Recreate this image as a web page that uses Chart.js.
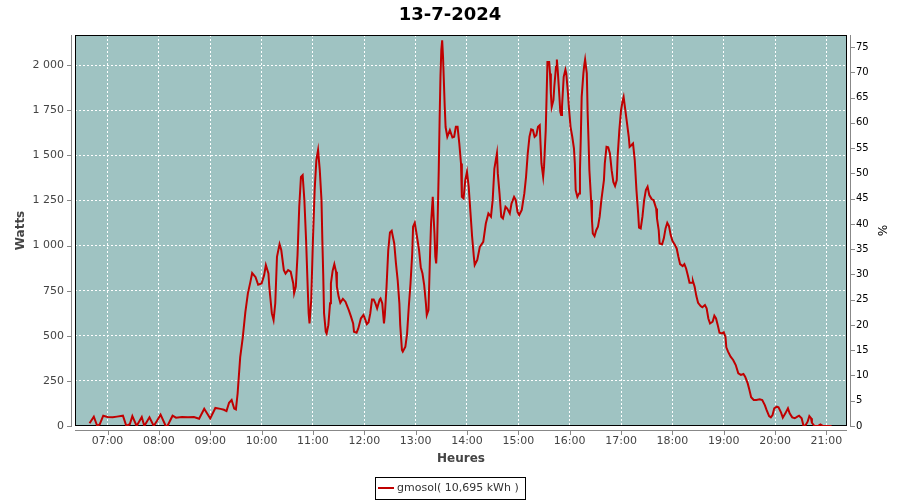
<!DOCTYPE html>
<html>
<head>
<meta charset="utf-8">
<script src="https://cdn.jsdelivr.net/npm/chart.js@4.4.1/dist/chart.umd.min.js"></script>
<style>
  html, body { margin: 0; padding: 0; background: #fff; }
</style>
</head>
<body>
<canvas id="chart" width="900" height="500"></canvas>
<script>
const chartTitle = '13-7-2024';
const seriesName = 'gmosol( 10,695 kWh )';

// time of day in minutes since midnight
const minutes = [
  399, 404, 408, 411, 415, 420, 426, 431, 438, 442, 446, 449, 454, 460, 463, 469, 474, 478, 482, 488,
  490, 496, 500, 507, 514, 521, 527, 533, 540, 546, 552, 556, 559, 562, 565, 568, 570, 572, 575, 578,
  581, 584, 587, 589, 593, 596, 600, 603, 605, 608, 609, 612, 614, 616, 618, 621, 623, 626, 628, 631,
  634, 637, 638, 640, 642, 644, 646, 648, 650, 652, 654, 655, 656, 658, 660, 662, 664, 666, 668, 670,
  671, 672, 673, 675, 676, 678, 680, 681, 683, 685, 687, 688, 690, 692, 695, 698, 702, 704, 707, 708,
  711, 713, 716, 719, 720, 723, 725, 727, 729, 731, 733, 735, 738, 739, 741, 743, 744, 746, 748, 750,
  752, 755, 757, 759, 761, 762, 764, 765, 768, 770, 772, 774, 776, 777, 779, 781, 784, 786, 788, 790,
  792, 793, 795, 796, 797, 798, 800, 801, 802, 803, 804, 805, 807, 808, 809, 810, 811, 812, 814, 815,
  817, 820, 823, 825, 827, 829, 831, 833, 834, 836, 838, 840, 842, 844, 846, 848, 849, 852, 855, 859,
  862, 865, 868, 870, 872, 875, 876, 878, 880, 882, 885, 887, 890, 892, 895, 897, 899, 901, 904, 907,
  909, 911, 913, 915, 917, 919, 921, 923, 925, 926, 927, 929, 930, 932, 933, 934, 936, 937, 938, 939,
  941, 942, 944, 945, 946, 948, 949, 950, 951, 953, 955, 956, 958, 959, 961, 963, 965, 966, 967, 969,
  971, 972, 973, 974, 976, 977, 978, 980, 981, 982, 983, 985, 986, 987, 989, 991, 993, 995, 997, 1000,
  1001, 1003, 1005, 1007, 1009, 1011, 1013, 1015, 1016, 1018, 1020, 1022, 1023, 1025, 1027, 1029, 1030, 1032, 1034, 1036,
  1038, 1040, 1041, 1043, 1045, 1047, 1049, 1051, 1053, 1056, 1058, 1061, 1062, 1064, 1065, 1068, 1070, 1072, 1074, 1076,
  1078, 1080, 1083, 1085, 1087, 1089, 1092, 1094, 1096, 1098, 1100, 1103, 1104, 1106, 1108, 1110, 1113, 1115, 1118, 1120,
  1122, 1124, 1127, 1129, 1131, 1133, 1135, 1138, 1140, 1142, 1143, 1145, 1148, 1151, 1154, 1157, 1160, 1163, 1165, 1168,
  1170, 1172, 1175, 1178, 1182, 1185, 1188, 1190, 1193, 1195, 1197, 1199, 1202, 1204, 1207, 1209, 1212, 1215, 1217, 1220,
  1223, 1226, 1228, 1231, 1233, 1235, 1238, 1240, 1242, 1243, 1246, 1250, 1253, 1256, 1266
];

const watts = [
  15, 52, 0, 10, 57, 50, 48, 52, 57, 0, 10, 55, 0, 50, 0, 48, 0, 30, 63, 0,
  0, 57, 46, 50, 48, 50, 40, 96, 42, 100, 95, 90, 83, 129, 144, 97, 92, 180, 380, 490,
  630, 735, 800, 848, 825, 783, 790, 836, 892, 845, 772, 624, 587, 680, 938, 1008, 975, 864, 845, 864,
  855, 790, 735, 772, 947, 1215, 1380, 1390, 1252, 1030, 753, 624, 568, 698, 1030, 1307, 1474, 1529, 1418, 1252,
  1030, 845, 624, 522, 512, 559, 680, 790, 860, 897, 855, 772, 717, 683, 705, 689, 641, 613, 568, 522,
  517, 541, 596, 615, 605, 565, 575, 624, 701, 701, 680, 652, 701, 707, 680, 568, 615, 772, 975, 1073,
  1082, 1012, 901, 809, 680, 559, 421, 412, 439, 512, 661, 790, 956, 1104, 1126, 1067, 975, 880, 845, 781,
  680, 615, 643, 809, 975, 1122, 1270, 1160, 1067, 938, 901, 993, 1418, 1695, 1935, 2083, 2138, 2046, 1769, 1657,
  1603, 1640, 1599, 1603, 1658, 1658, 1566, 1455, 1270, 1261, 1363, 1409, 1326, 1187, 1049, 938, 892, 920, 993, 1021,
  1122, 1178, 1160, 1252, 1427, 1511, 1400, 1289, 1160, 1150, 1215, 1205, 1178, 1233, 1270, 1252, 1187, 1169, 1197, 1289,
  1381, 1511, 1603, 1644, 1640, 1603, 1612, 1658, 1667, 1557, 1455, 1381, 1436, 1640, 1824, 2018, 2018, 1954, 1843, 1769,
  1806, 1880, 1991, 2031, 1972, 1824, 1741, 1723, 1769, 1935, 1975, 1954, 1843, 1769, 1658, 1603, 1538, 1455, 1307, 1270,
  1289, 1418, 1603, 1824, 1954, 2000, 2031, 1954, 1732, 1584, 1418, 1252, 1141, 1067, 1052, 1085, 1104, 1160, 1252, 1363,
  1455, 1547, 1544, 1511, 1418, 1353, 1330, 1363, 1492, 1640, 1750, 1806, 1824, 1750, 1677, 1603, 1547, 1556, 1566, 1474,
  1307, 1178, 1100, 1095, 1160, 1252, 1307, 1326, 1280, 1256, 1252, 1206, 1150, 1086, 1012, 1007, 1040, 1095, 1126, 1108,
  1058, 1026, 1003, 984, 938, 897, 886, 897, 873, 836, 794, 794, 803, 772, 720, 683, 665, 658, 670, 652,
  596, 568, 578, 611, 596, 559, 517, 513, 519, 495, 436, 412, 384, 366, 338, 292, 283, 288, 273, 236,
  199, 159, 144, 144, 148, 144, 116, 89, 55, 48, 61, 98, 107, 104, 74, 46, 70, 98, 70, 48,
  43, 52, 57, 43, 4, 0, 24, 55, 43, 18, 0, 0, 9, 0, 0
];

const hourTicks = [420, 480, 540, 600, 660, 720, 780, 840, 900, 960, 1020, 1080, 1140, 1200, 1260];
const wattTicks = [0, 250, 500, 750, 1000, 1250, 1500, 1750, 2000];
const pctTicks = [0, 5, 10, 15, 20, 25, 30, 35, 40, 45, 50, 55, 60, 65, 70, 75];

const FONT = '"DejaVu Sans", sans-serif';

function fmtThousands(v) {
  return String(v).replace(/\B(?=(\d{3})+(?!\d))/g, ' ');
}
function fmtHour(v) {
  const h = Math.floor(v / 60);
  return (h < 10 ? '0' : '') + h + ':00';
}

const frame = {
  id: 'frame',
  beforeDraw(chart) {
    const { ctx, chartArea: a } = chart;
    ctx.save();
    ctx.fillStyle = '#ffffff';
    ctx.fillRect(0, 0, chart.width, chart.height);
    ctx.fillStyle = '#9fc3c2';
    ctx.fillRect(a.left, a.top, a.right - a.left, a.bottom - a.top);
    ctx.restore();
  },
  beforeDatasetsDraw(chart) {
    const { ctx, chartArea: a, scales } = chart;
    ctx.save();
    ctx.lineWidth = 1;
    ctx.strokeStyle = '#000';
    ctx.strokeRect(a.left + 0.5, a.top + 0.5, a.right - a.left - 1, a.bottom - a.top - 1);

    // detached axis lines + tick marks
    ctx.strokeStyle = '#888';
    ctx.beginPath();
    ctx.moveTo(a.left - 3.5, a.top); ctx.lineTo(a.left - 3.5, a.bottom);
    ctx.moveTo(a.right + 3.5, a.top); ctx.lineTo(a.right + 3.5, a.bottom);
    ctx.moveTo(a.left, a.bottom + 4.5); ctx.lineTo(a.right, a.bottom + 4.5);
    scales.y.ticks.forEach(t => {
      const py = Math.round(scales.y.getPixelForValue(t.value)) + 0.5;
      ctx.moveTo(a.left - 8, py); ctx.lineTo(a.left - 3, py);
    });
    scales.y2.ticks.forEach(t => {
      const py = Math.round(scales.y2.getPixelForValue(t.value)) + 0.5;
      ctx.moveTo(a.right + 3, py); ctx.lineTo(a.right + 8, py);
    });
    scales.x.ticks.forEach(t => {
      const px = Math.round(scales.x.getPixelForValue(t.value)) + 0.5;
      ctx.moveTo(px, a.bottom + 4); ctx.lineTo(px, a.bottom + 9);
    });
    ctx.stroke();
    ctx.restore();
  },
  afterDraw(chart) {
    const { ctx } = chart;
    ctx.save();
    ctx.fillStyle = '#000';
    ctx.font = 'bold 18px ' + FONT;
    ctx.textAlign = 'center';
    ctx.textBaseline = 'alphabetic';
    ctx.fillText(chart.options.plugins.title.text, chart.width / 2, 20);

    // legend box
    const ds = chart.data.datasets[0];
    ctx.font = '11px ' + FONT;
    const w = ctx.measureText(ds.label).width;
    const boxW = Math.round(w + 28);
    const left = Math.round(chart.width / 2 - boxW / 2);
    const top = 477, h = 22, cy = top + h / 2;
    ctx.strokeStyle = '#000';
    ctx.lineWidth = 1;
    ctx.strokeRect(left + 0.5, top + 0.5, boxW, h);
    ctx.strokeStyle = ds.borderColor;
    ctx.lineWidth = 2;
    ctx.beginPath();
    ctx.moveTo(left + 3, cy); ctx.lineTo(left + 19, cy);
    ctx.stroke();
    ctx.fillStyle = '#333';
    ctx.textAlign = 'left';
    ctx.textBaseline = 'middle';
    ctx.fillText(ds.label, left + 22, cy + 0.5);
    ctx.restore();
  }
};

new Chart(document.getElementById('chart').getContext('2d'), {
  type: 'line',
  data: {
    datasets: [{
      label: seriesName,
      data: minutes.map((m, i) => ({ x: m, y: watts[i] })),
      borderColor: '#c00000',
      borderWidth: 2,
      pointRadius: 0,
      tension: 0,
      fill: false,
      yAxisID: 'y'
    }]
  },
  options: {
    responsive: false,
    animation: false,
    layout: { padding: { top: 35, bottom: 30, left: 0, right: 0 } },
    plugins: {
      legend: { display: false },
      title: { display: false, text: chartTitle },
      tooltip: { enabled: false }
    },
    scales: {
      x: {
        type: 'linear',
        min: 382,
        max: 1284,
        afterBuildTicks: s => { s.ticks = hourTicks.map(v => ({ value: v })); },
        afterFit: s => { s.height = 44; },
        grid: { color: '#ffffff', lineWidth: 1, drawTicks: false },
        border: { display: false, dash: [2, 2] },
        ticks: { padding: 9, color: '#444', font: { family: FONT, size: 11 }, callback: v => fmtHour(v), maxRotation: 0 },
        title: { display: true, text: 'Heures', color: '#444', font: { family: FONT, size: 12, weight: 'bold' }, padding: { top: 0, bottom: 4 } }
      },
      y: {
        position: 'left',
        min: 0,
        max: 2167,
        afterBuildTicks: s => { s.ticks = wattTicks.map(v => ({ value: v })); },
        afterFit: s => { s.width = 75; },
        grid: { color: '#ffffff', lineWidth: 1, drawTicks: false },
        border: { display: false, dash: [2, 2] },
        ticks: { padding: 11, color: '#444', font: { family: FONT, size: 11 }, callback: v => fmtThousands(v) },
        title: { display: true, text: 'Watts', color: '#444', font: { family: FONT, size: 12, weight: 'bold' }, padding: { top: 14, bottom: 0 } }
      },
      y2: {
        position: 'right',
        min: 0,
        max: 77.4,
        afterBuildTicks: s => { s.ticks = pctTicks.map(v => ({ value: v })); },
        afterFit: s => { s.width = 53; },
        grid: { display: false, drawTicks: false },
        border: { display: false },
        ticks: { padding: 9, color: '#000', font: { family: FONT, size: 10 } },
        title: { display: true, text: '%', color: '#000', font: { family: FONT, size: 12 }, padding: { top: 12, bottom: 0 } }
      }
    }
  },
  plugins: [frame]
});
</script>
</body>
</html>
